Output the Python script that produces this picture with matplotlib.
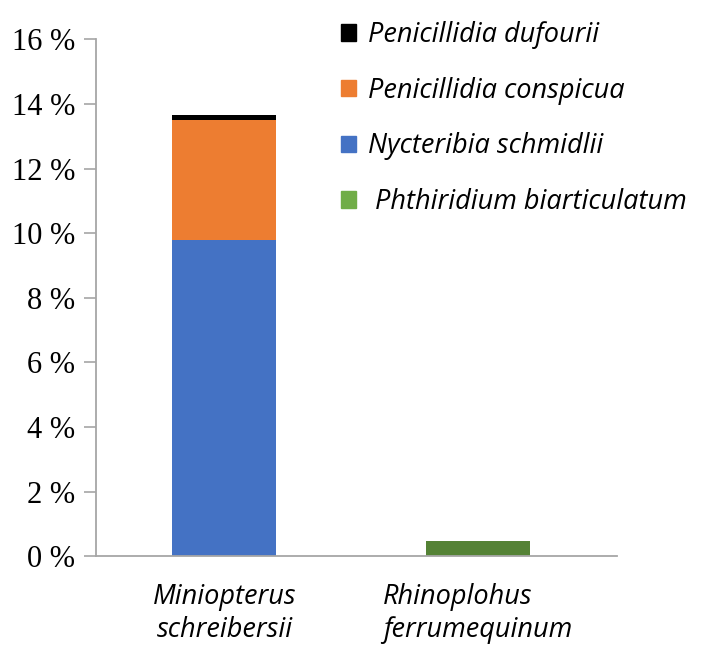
import matplotlib.pyplot as plt
from matplotlib.patches import Patch

# host species and fly prevalence (%)
hosts = ["Miniopterus\nschreibersii", "Rhinoplohus\nferrumequinum"]
nycteribia_schmidlii = [9.8, 0.0]
penicillidia_conspicua = [3.7, 0.0]
penicillidia_dufourii = [0.15, 0.0]
phthiridium_biarticulatum = [0.0, 0.48]

y_ticks = [0, 2, 4, 6, 8, 10, 12, 14, 16]
y_labels = ["%d %%" % t for t in y_ticks]

blue = "#4472C4"
orange = "#ED7D31"
black = "#000000"
green_bar = "#548235"
green_leg = "#70AD47"

fig = plt.figure(figsize=(7.05, 6.46), dpi=100)
ax = fig.add_axes([0.136, 0.139, 0.739, 0.80])

x = [0, 1]
w = 0.41
ax.bar(x, nycteribia_schmidlii, w, color=blue)
bottom = nycteribia_schmidlii
ax.bar(x, penicillidia_conspicua, w, bottom=bottom, color=orange)
bottom = [a + b for a, b in zip(bottom, penicillidia_conspicua)]
ax.bar(x, penicillidia_dufourii, w, bottom=bottom, color=black)
ax.bar(x, phthiridium_biarticulatum, w, color=green_bar)

ax.set_xlim(-0.507, 1.548)
ax.set_ylim(0, 16)
ax.set_yticks(y_ticks)
ax.set_yticklabels(y_labels, fontfamily="Liberation Serif", fontsize=22)
ax.set_xticks(x)
ax.set_xticklabels(hosts, fontfamily="Open Sans", style="italic", fontsize=19.5,
                   linespacing=1.25)
ax.get_xticklabels()[1].set_multialignment("left")
ax.tick_params(axis="x", length=0, pad=19)
ax.tick_params(axis="y", length=9, color="#A6A6A6", width=1.2, pad=6)

for side in ["top", "right"]:
    ax.spines[side].set_visible(False)
for side in ["left", "bottom"]:
    ax.spines[side].set_color("#A6A6A6")
    ax.spines[side].set_linewidth(1.3)

handles = [
    Patch(color=black, label="Penicillidia dufourii"),
    Patch(color=orange, label="Penicillidia conspicua"),
    Patch(color=blue, label="Nycteribia schmidlii"),
    Patch(color=green_leg, label=" Phthiridium biarticulatum"),
]
leg = fig.legend(handles=handles, loc="upper left", bbox_to_anchor=(0.468, 0.984),
                 frameon=False, handlelength=0.55, handleheight=0.55,
                 handletextpad=0.45, labelspacing=1.02, borderaxespad=0,
                 prop={"family": "Open Sans", "style": "italic", "size": 19.5})

fig.savefig("out.png", dpi=100, facecolor="white")
